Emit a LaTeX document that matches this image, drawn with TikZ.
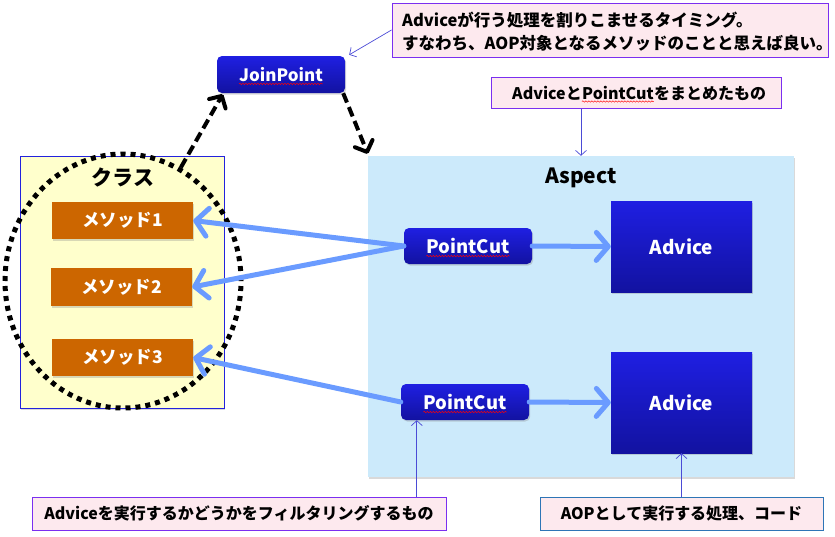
\documentclass[tikz,border=0pt]{standalone}
\usepackage{fontspec}
\setmainfont{Noto Sans CJK JP}
\usetikzlibrary{arrows.meta,shadows,shapes.geometric,decorations.pathmorphing,calc}
\definecolor{cpink}{HTML}{FDE9EE}
\definecolor{cpurple}{HTML}{7B2FF0}
\definecolor{cblue}{HTML}{2E75B6}
\definecolor{thinblue}{HTML}{4B4BD6}
\definecolor{aspectbg}{HTML}{CCEAFB}
\definecolor{classbg}{HTML}{FFFFCC}
\definecolor{classbd}{HTML}{2222DD}
\definecolor{methodbg}{HTML}{CC6600}
\definecolor{arrowblue}{HTML}{6A9BFF}
\definecolor{boxtop}{HTML}{1F1FE2}
\definecolor{boxbot}{HTML}{1212A0}
\begin{document}
\begin{tikzpicture}[x=1pt,y=-1pt,
  txt/.style={font=\bfseries\fontsize{#1}{#1}\selectfont, inner sep=0pt},
  shd/.style={drop shadow={shadow xshift=1.2pt,shadow yshift=-1.5pt,opacity=.3}},
  bluebox/.style={rounded corners=5pt, top color=boxtop, bottom color=boxbot, draw=none, shd, inner sep=0pt},
  sqbox/.style={top color=boxtop, bottom color=boxbot, draw=none, shd, inner sep=0pt},
  method/.style={fill=methodbg, draw=none, shd, inner sep=0pt},
  callout/.style={draw=cpurple, fill=cpink, line width=1pt, inner sep=0pt},
  thinarr/.style={draw=thinblue, line width=.7pt, -{Straight Barb[length=5pt,width=11pt]}},
  bigarr/.style={draw=arrowblue, line width=5pt, line cap=round, -{Straight Barb[length=12pt,width=28pt,round]}},
  dasharr/.style={draw=black, line width=4pt, dash pattern=on 10pt off 5pt, -{Straight Barb[length=9pt,width=19pt,round]}},
  squig/.style={draw=red, line width=.5pt, decorate, decoration={snake, amplitude=.7pt, segment length=3pt}}
]
\useasboundingbox (0,0) rectangle (835,536);

% Aspect container
\node[fill=aspectbg, draw=none, shd, minimum width=426pt, minimum height=321pt, inner sep=0pt] (asp) at (581,316.5) {};
\node[txt=21] (asptitle) at (581,178) {Aspect};

% Class container
\node[fill=classbg, draw=classbd, line width=.8pt, shd, minimum width=204pt, minimum height=252pt, inner sep=0pt] (cls) at (122,282) {};
\node[txt=21] (clstitle) at (123,177) {クラス};

% dotted ellipse
\node[draw, ellipse, line width=5pt, dash pattern=on 5pt off 5pt, minimum width=236pt, minimum height=254pt, inner sep=0pt] (ell) at (123,281) {};

% methods
\node[method, minimum width=141pt, minimum height=37pt] (m1) at (122.5,220.5) {};
\node[txt=17.5, text=white] (m1t) at (m1) {メソッド1};
\node[method, minimum width=141pt, minimum height=38pt] (m2) at (121.5,287) {};
\node[txt=17.5, text=white] (m2t) at (m2) {メソッド2};
\node[method, minimum width=141pt, minimum height=37pt] (m3) at (122.5,357.5) {};
\node[txt=17.5, text=white] (m3t) at (m3) {メソッド3};

% JoinPoint
\node[bluebox, minimum width=128pt, minimum height=37pt] (jp) at (281,74.5) {};
\node[txt=17, text=white] (jpt) at (jp) {JoinPoint};
\draw[squig] ($(jpt.base west)+(0,2.5)$) -- ($(jpt.base east)+(0,2.5)$);

% PointCuts
\node[bluebox, minimum width=128pt, minimum height=36pt] (pc1) at (468,246) {};
\node[txt=18.5, text=white] (pc1t) at (pc1) {PointCut};
\draw[squig] ($(pc1t.base west)+(0,2.5)$) -- ($(pc1t.base east)+(0,2.5)$);
\node[bluebox, minimum width=128pt, minimum height=36pt] (pc2) at (465,402) {};
\node[txt=18.5, text=white] (pc2t) at (pc2) {PointCut};
\draw[squig] ($(pc2t.base west)+(0,2.5)$) -- ($(pc2t.base east)+(0,2.5)$);

% Advices
\node[sqbox, minimum width=141pt, minimum height=91pt] (adv1) at (681.5,246.5) {};
\node[txt=19, text=white] (adv1t) at (adv1) {Advice};
\node[sqbox, minimum width=141pt, minimum height=101pt] (adv2) at (681.5,402.5) {};
\node[txt=19, text=white] (adv2t) at (adv2) {Advice};

% big blue arrows
\draw[bigarr] (pc1.west) -- (m1.east);
\draw[bigarr] (pc1.west) -- (m2.east);
\draw[bigarr] (pc2.west) -- (m3.east);
\draw[bigarr] (pc1.east) -- (adv1.west);
\draw[bigarr] (pc2.east) -- (adv2.west);

% dashed arrows
\coordinate (d1s) at (ell.63);
\coordinate (d1e) at ($(jp.south west)+(6,1)$);
\draw[dasharr] (d1s) -- (d1e);
\coordinate (d2s) at ($(jp.south east)+(-2,0)$);
\coordinate (d2e) at ($(asp.north west)+(0,-2)$);
\draw[dasharr] (d2s) -- (d2e);

% top callout
\node[callout, minimum width=436pt, minimum height=54pt] (c1) at (610,30) {};
\node[txt=16.5, anchor=base west] (c1a) at (402,26) {Adviceが行う処理を割りこませるタイミング。};
\node[txt=16.5, anchor=base west] (c1b) at (402,49) {すなわち、AOP対象となるメソッドのことと思えば良い。};
\coordinate (c1e) at ($(jp.north east)+(4,-1)$);
\draw[thinarr] (c1.west) -- (c1e);

% callout 2
\node[callout, minimum width=290pt, minimum height=31pt] (c2) at (636,92.5) {};
\node[txt=16, anchor=base west] (c2a) at (512,99) {Adviceと};
\node[txt=16, anchor=base west] (c2b) at (c2a.base east) {PointCut};
\node[txt=16, anchor=base west] (c2c) at (c2b.base east) {をまとめたもの};
\draw[squig] ($(c2b.base west)+(0,2.5)$) -- ($(c2b.base east)+(0,2.5)$);
\draw[thinarr] (c2.south -| asp.north) -- (asp.north);

% bottom callout 1
\node[callout, minimum width=414pt, minimum height=33pt] (b1) at (239,513.5) {};
\node[txt=16] (b1t) at (b1) {Adviceを実行するかどうかをフィルタリングするもの};
\coordinate (b1e) at ($(pc2.south west)+(16,0)$);
\draw[thinarr] (b1.north -| b1e) -- (b1e);

% bottom callout 2
\node[draw=cblue, fill=cpink, line width=1pt, inner sep=0pt, minimum width=283pt, minimum height=33pt] (b2) at (681.5,513.5) {};
\node[txt=16] (b2t) at (b2) {AOPとして実行する処理、コード};
\draw[thinarr] (b2.north) -- (adv2.south);
\end{tikzpicture}
\end{document}
